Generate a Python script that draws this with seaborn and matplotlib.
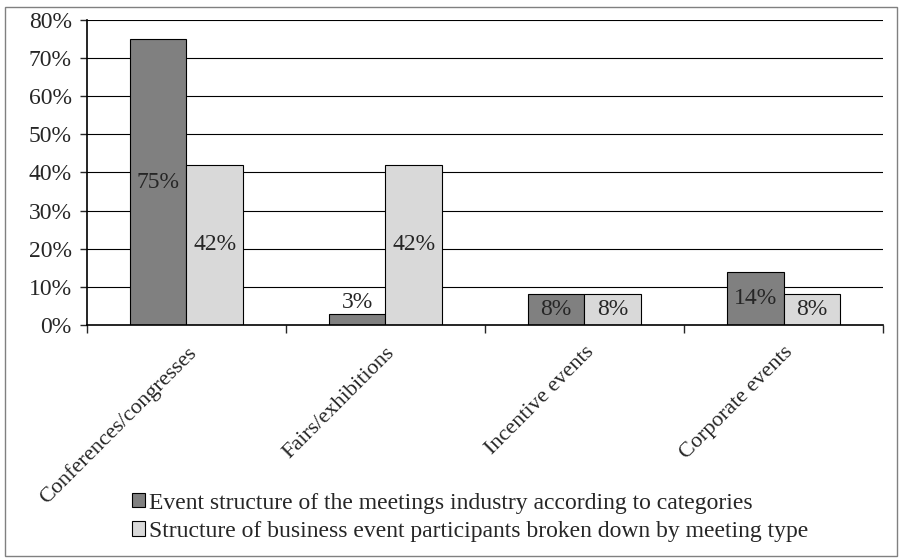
import pandas as pd
import numpy as np

import matplotlib
matplotlib.use('Agg')
import matplotlib.pyplot as plt
from matplotlib.patches import Rectangle
from matplotlib.ticker import FixedLocator

import seaborn as sns

# ============================================================
# data
# ============================================================

categories = ['Conferences/congresses', 'Fairs/exhibitions', 'Incentive events', 'Corporate events']
series_names = [
    'Event structure of the meetings industry according to categories',
    'Structure of business event participants broken down by meeting type',
]
industry_vals = [75, 3, 8, 14]
participant_vals = [42, 42, 8, 8]
y_ticks = [0, 10, 20, 30, 40, 50, 60, 70, 80]

df = pd.DataFrame({
    'category': categories * 2,
    'series': [series_names[0]] * 4 + [series_names[1]] * 4,
    'value': industry_vals + participant_vals,
})

# ============================================================
# plot
# ============================================================

sns.set_style('white')
plt.rcParams['font.family'] = ['Liberation Serif', 'DejaVu Serif']
plt.rcParams['font.size'] = 17

fig = plt.figure(figsize=(9.05, 5.58), dpi=100)
ax = fig.add_axes([0.0961, 0.4176, 0.8796, 0.5466])

sns.barplot(
    data=df, x='category', y='value', hue='series',
    palette={series_names[0]: '#808080', series_names[1]: '#d9d9d9'},
    width=0.57, edgecolor='black', linewidth=0.8, saturation=1,
    ax=ax, legend=True, zorder=3,
)

ax.set_ylim(0, 80)
ax.set_xlim(-0.5, len(categories) - 0.5)
ax.set_yticks(y_ticks)
ax.set_yticklabels([f'{v}%' for v in y_ticks])
for v in y_ticks[1:]:
    ax.axhline(v, color='black', linewidth=0.8, zorder=1)

ax.set_xlabel('')
ax.set_ylabel('')
ax.set_xticks(range(len(categories)))
ax.set_xticklabels(categories, rotation=45, ha='right', rotation_mode='anchor', fontsize=16)
ax.xaxis.set_minor_locator(FixedLocator(np.arange(-0.5, len(categories), 1.0)))
ax.tick_params(axis='x', which='major', length=0, pad=13)
ax.tick_params(axis='x', which='minor', length=6, width=1, direction='out', bottom=True)
ax.tick_params(axis='y', length=5, width=1, direction='out', left=True, pad=6)

for side in ['top', 'right']:
    ax.spines[side].set_visible(False)
for side in ['left', 'bottom']:
    ax.spines[side].set_color('black')
    ax.spines[side].set_linewidth(1.2)
    ax.spines[side].set_zorder(4)

# bar labels: centered inside, small bars labelled above
for container in ax.containers:
    for bar in container:
        h = bar.get_height()
        x = bar.get_x() + bar.get_width() / 2
        if h < 5:
            ax.text(x, h + 0.2, f'{h:.0f}%', ha='center', va='bottom', zorder=5)
        else:
            ax.text(x, h / 2, f'{h:.0f}%', ha='center', va='center', zorder=5)

handles, labels = ax.get_legend_handles_labels()
ax.get_legend().remove()
fig.legend(
    handles, labels, loc='upper left', bbox_to_anchor=(0.146, 0.117),
    frameon=False, handlelength=0.55, handleheight=0.55, handletextpad=0.15,
    labelspacing=0.3, fontsize=17, borderaxespad=0, borderpad=0,
)

# outer frame around the chart
fig.patches.append(Rectangle((0.006, 0.004), 0.985, 0.984, transform=fig.transFigure,
                             fill=False, edgecolor='#808080', linewidth=1))

fig.savefig('out.png', dpi=100)
